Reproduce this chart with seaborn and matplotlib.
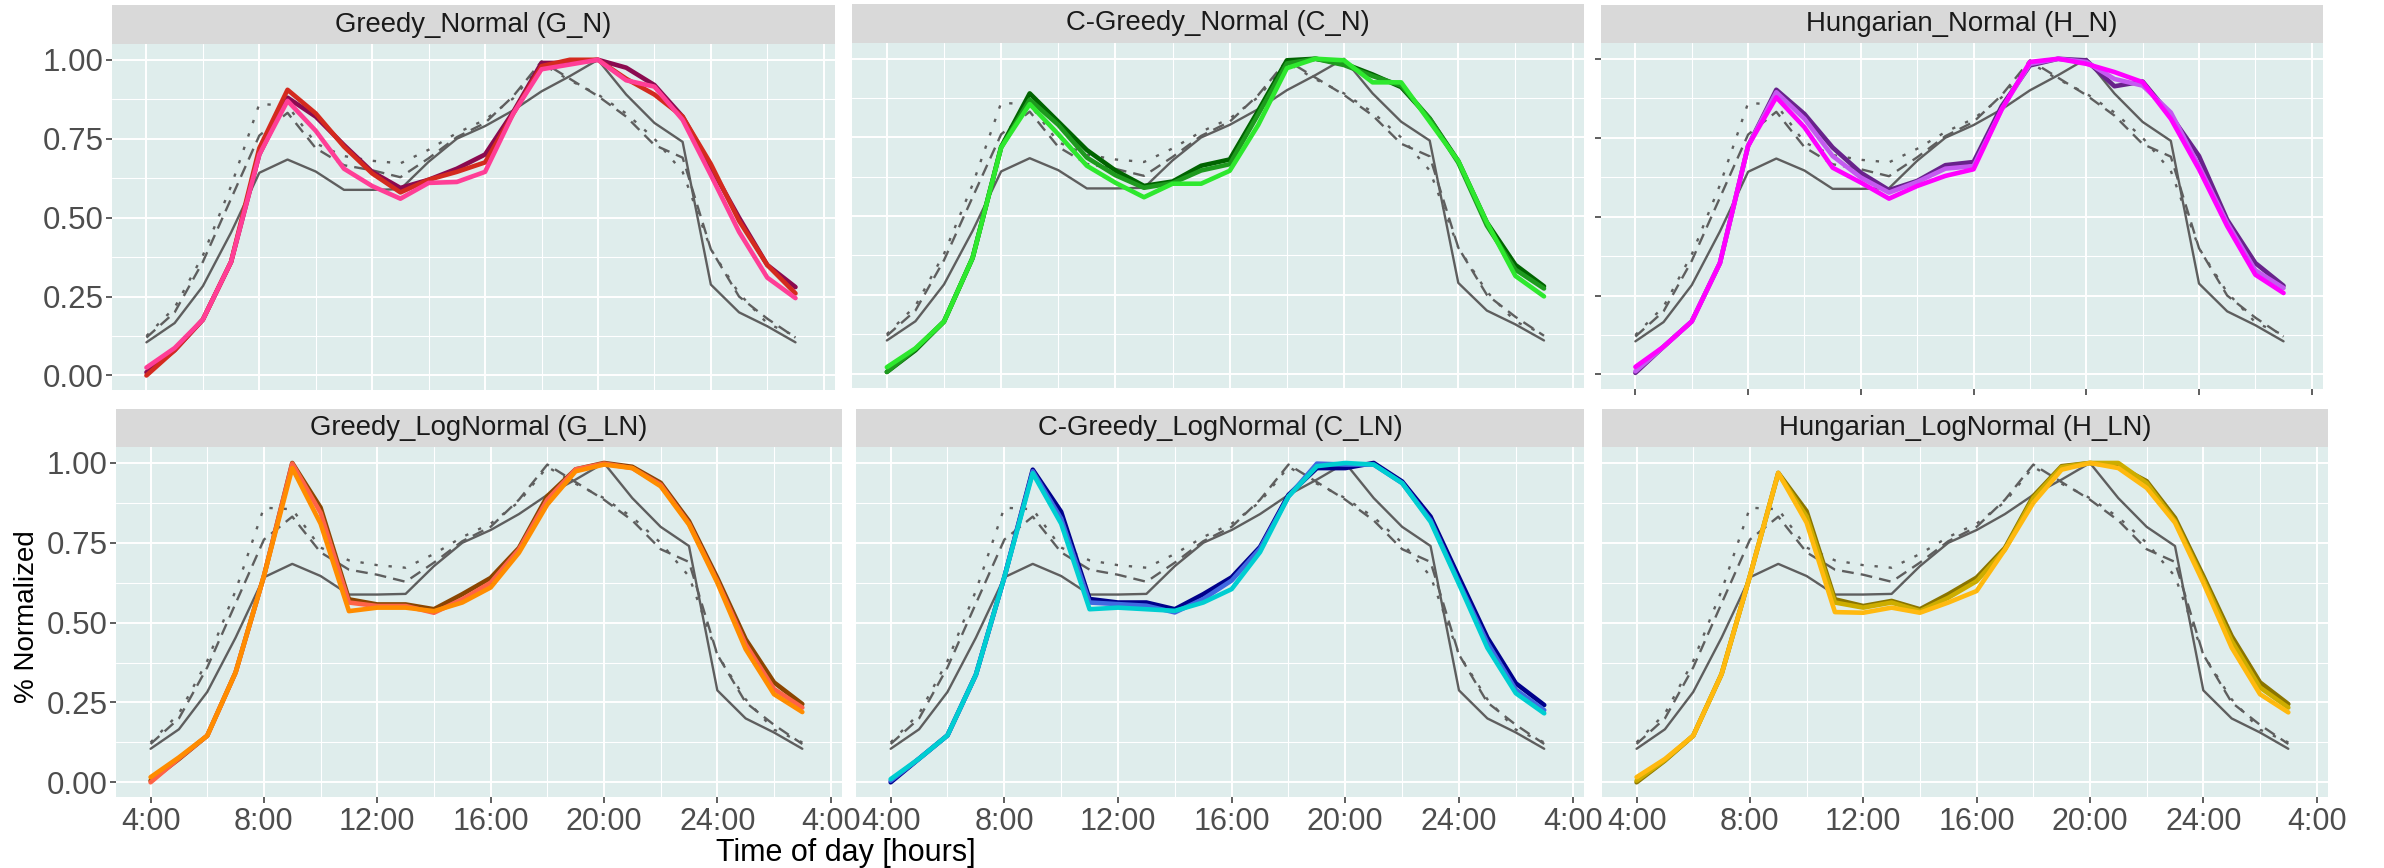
import numpy as np
import pandas as pd
import matplotlib
matplotlib.use("Agg")
import matplotlib.pyplot as plt
import seaborn as sns

sns.set_theme(style="white")
plt.rcParams["font.family"] = ["Liberation Sans", "DejaVu Sans"]

# hours of the day (4:00 .. 3:00 next day)
hours = list(range(4, 28))

# reference profiles (grey) - same in every panel
ref_solid = [0.105, 0.166, 0.283, 0.453, 0.642, 0.684, 0.646, 0.588, 0.588, 0.590, 0.677, 0.750,
             0.790, 0.840, 0.900, 0.948, 1.000, 0.890, 0.800, 0.740, 0.288, 0.200, 0.156, 0.105]
ref_dashed = [0.120, 0.200, 0.360, 0.560, 0.760, 0.832, 0.720, 0.666, 0.650, 0.628, 0.688, 0.755,
              0.800, 0.885, 0.995, 0.940, 0.885, 0.820, 0.730, 0.690, 0.400, 0.250, 0.180, 0.120]
ref_dotted = [0.125, 0.215, 0.380, 0.600, 0.860, 0.855, 0.735, 0.695, 0.680, 0.672, 0.715, 0.768,
              0.810, 0.878, 0.988, 0.935, 0.890, 0.830, 0.750, 0.645, 0.400, 0.260, 0.165, 0.125]

# Greedy_Normal
gn_1 = [0.010, 0.080, 0.177, 0.360, 0.700, 0.880, 0.820, 0.730, 0.645, 0.594, 0.620, 0.655,
        0.700, 0.835, 0.990, 0.990, 1.000, 0.975, 0.920, 0.820, 0.660, 0.500, 0.350, 0.280]
gn_2 = [0.000, 0.080, 0.177, 0.360, 0.720, 0.905, 0.830, 0.725, 0.640, 0.580, 0.620, 0.645,
        0.675, 0.830, 0.980, 1.000, 1.000, 0.940, 0.890, 0.820, 0.670, 0.490, 0.350, 0.260]
gn_3 = [0.025, 0.087, 0.177, 0.360, 0.700, 0.870, 0.775, 0.655, 0.600, 0.560, 0.610, 0.613,
        0.645, 0.830, 0.970, 0.985, 1.000, 0.935, 0.915, 0.810, 0.635, 0.455, 0.310, 0.245]
# C-Greedy_Normal
cn_1 = [0.005, 0.074, 0.165, 0.367, 0.720, 0.890, 0.800, 0.710, 0.645, 0.596, 0.610, 0.660,
        0.680, 0.835, 0.995, 1.000, 0.985, 0.950, 0.910, 0.810, 0.675, 0.480, 0.345, 0.277]
cn_2 = [0.005, 0.078, 0.165, 0.367, 0.718, 0.870, 0.790, 0.686, 0.630, 0.590, 0.605, 0.645,
        0.665, 0.824, 0.985, 1.000, 0.980, 0.945, 0.915, 0.810, 0.670, 0.470, 0.330, 0.270]
cn_3 = [0.020, 0.080, 0.165, 0.367, 0.718, 0.856, 0.760, 0.660, 0.606, 0.560, 0.603, 0.603,
        0.644, 0.790, 0.970, 1.000, 0.995, 0.925, 0.925, 0.800, 0.675, 0.480, 0.310, 0.245]
# Hungarian_Normal
hn_1 = [0.005, 0.088, 0.168, 0.353, 0.724, 0.902, 0.825, 0.719, 0.639, 0.584, 0.613, 0.663,
        0.673, 0.850, 0.979, 1.000, 0.995, 0.913, 0.928, 0.820, 0.692, 0.490, 0.353, 0.281]
hn_2 = [0.010, 0.088, 0.168, 0.353, 0.724, 0.894, 0.810, 0.692, 0.624, 0.576, 0.610, 0.652,
        0.660, 0.840, 0.984, 1.000, 0.990, 0.936, 0.915, 0.830, 0.660, 0.480, 0.330, 0.274]
hn_3 = [0.024, 0.088, 0.168, 0.353, 0.724, 0.878, 0.783, 0.655, 0.608, 0.557, 0.597, 0.629,
        0.650, 0.840, 0.990, 1.000, 0.984, 0.958, 0.926, 0.810, 0.650, 0.470, 0.316, 0.258]
# Greedy_LogNormal
gln_1 = [0.005, 0.073, 0.146, 0.344, 0.646, 1.000, 0.860, 0.573, 0.557, 0.557, 0.542, 0.589,
         0.640, 0.734, 0.896, 0.980, 1.000, 0.988, 0.938, 0.818, 0.640, 0.448, 0.313, 0.245]
gln_2 = [0.000, 0.075, 0.146, 0.344, 0.646, 0.998, 0.844, 0.563, 0.552, 0.552, 0.531, 0.573,
         0.625, 0.729, 0.885, 0.980, 0.998, 0.984, 0.932, 0.810, 0.630, 0.432, 0.292, 0.234]
gln_3 = [0.016, 0.078, 0.146, 0.344, 0.646, 0.984, 0.810, 0.536, 0.547, 0.547, 0.536, 0.563,
         0.610, 0.719, 0.870, 0.974, 0.995, 0.984, 0.927, 0.807, 0.625, 0.417, 0.276, 0.220]
# C-Greedy_LogNormal
cln_1 = [0.000, 0.074, 0.147, 0.337, 0.642, 0.979, 0.847, 0.574, 0.563, 0.563, 0.542, 0.589,
         0.642, 0.737, 0.900, 0.984, 0.984, 1.000, 0.942, 0.832, 0.642, 0.453, 0.310, 0.242]
cln_2 = [0.005, 0.074, 0.147, 0.337, 0.642, 0.974, 0.826, 0.563, 0.558, 0.553, 0.532, 0.574,
         0.632, 0.732, 0.895, 0.998, 0.995, 0.995, 0.937, 0.821, 0.626, 0.437, 0.290, 0.226]
cln_3 = [0.010, 0.074, 0.147, 0.337, 0.642, 0.968, 0.810, 0.542, 0.547, 0.542, 0.537, 0.563,
         0.605, 0.721, 0.895, 0.990, 1.000, 0.995, 0.937, 0.816, 0.621, 0.421, 0.279, 0.216]
# Hungarian_LogNormal
hln_1 = [0.000, 0.068, 0.146, 0.339, 0.646, 0.969, 0.849, 0.573, 0.552, 0.568, 0.542, 0.589,
         0.641, 0.734, 0.896, 0.990, 1.000, 0.990, 0.943, 0.828, 0.646, 0.458, 0.313, 0.245]
hln_2 = [0.005, 0.070, 0.146, 0.339, 0.646, 0.967, 0.833, 0.563, 0.547, 0.563, 0.536, 0.578,
         0.630, 0.729, 0.890, 0.987, 1.000, 1.000, 0.937, 0.818, 0.635, 0.443, 0.297, 0.234]
hln_3 = [0.016, 0.073, 0.146, 0.339, 0.646, 0.969, 0.813, 0.533, 0.531, 0.547, 0.531, 0.563,
         0.599, 0.729, 0.875, 0.979, 1.000, 0.984, 0.922, 0.813, 0.625, 0.422, 0.276, 0.219]

titles = ["Greedy_Normal (G_N)", "C-Greedy_Normal (C_N)", "Hungarian_Normal (H_N)",
          "Greedy_LogNormal (G_LN)", "C-Greedy_LogNormal (C_LN)", "Hungarian_LogNormal (H_LN)"]
panel_series = [[gn_1, gn_2, gn_3], [cn_1, cn_2, cn_3], [hn_1, hn_2, hn_3],
                [gln_1, gln_2, gln_3], [cln_1, cln_2, cln_3], [hln_1, hln_2, hln_3]]
panel_colors = [["#8B0A50", "#D42A1E", "#FF3E96"],
                ["#006400", "#1E9A1E", "#2EE82E"],
                ["#68228B", "#C45BF0", "#FF00FF"],
                ["#8B4500", "#FF6347", "#FF8C00"],
                ["#00008B", "#4169E1", "#00CED1"],
                ["#8B7500", "#CDAD00", "#FFB90F"]]
tick_hours = [4, 8, 12, 16, 20, 24, 28]
tick_labels = ["4:00", "8:00", "12:00", "16:00", "20:00", "24:00", "4:00"]

# grey reference lines as long table
ref_df = pd.concat([
    pd.DataFrame({"hour": hours, "value": ref_solid, "ref": "solid"}),
    pd.DataFrame({"hour": hours, "value": ref_dashed, "ref": "dashed"}),
    pd.DataFrame({"hour": hours, "value": ref_dotted, "ref": "dotted"}),
])
ref_dashes = {"solid": "", "dashed": (5.0, 3.0), "dotted": (1.4, 4.6)}

W, H = 2384, 868
# panel boxes in pixels: (x0, x1, strip_top, plot_top, plot_bottom)
boxes = [(112, 835, 5, 44, 390), (852, 1584, 4, 43, 388), (1601, 2323, 5, 43, 389),
         (116, 842, 409, 447, 797), (856, 1584, 409, 447, 797), (1602, 2328, 409, 447, 797)]

fig = plt.figure(figsize=(W / 100, H / 100), dpi=100)

for i, (x0, x1, st, pt, pb) in enumerate(boxes):
    ax = fig.add_axes([x0 / W, 1 - pb / H, (x1 - x0) / W, (pb - pt) / H])
    ax.set_facecolor("#DFEDEC")
    for s in ax.spines.values():
        s.set_visible(False)

    sns.lineplot(data=ref_df, x="hour", y="value", style="ref", dashes=ref_dashes,
                 color="#5E5E5E", linewidth=1.7, legend=False, ax=ax)

    df = pd.concat([pd.DataFrame({"hour": hours, "value": v, "run": f"r{k}"})
                    for k, v in enumerate(panel_series[i])])
    sns.lineplot(data=df, x="hour", y="value", hue="run", palette=panel_colors[i],
                 linewidth=3.3, legend=False, ax=ax)

    ax.set_xlim(2.78, 28.4)
    ax.set_ylim(-0.046, 1.05)
    ax.set_xticks(tick_hours)
    ax.set_xticks([6, 10, 14, 18, 22, 26], minor=True)
    ax.set_yticks([0, 0.25, 0.5, 0.75, 1.0])
    ax.set_yticks([0.125, 0.375, 0.625, 0.875], minor=True)
    ax.grid(which="major", color="white", linewidth=1.4)
    ax.grid(which="minor", color="white", linewidth=0.8)
    ax.set_axisbelow(True)
    ax.set_xlabel("")
    ax.set_ylabel("")

    row, col = divmod(i, 3)
    ax.tick_params(which="minor", length=0)
    ax.tick_params(which="major", color="#333333", width=1.1, length=4,
                   labelcolor="#4D4D4D")
    ax.tick_params(axis="x", labelsize=22)
    ax.tick_params(axis="y", labelsize=22.5)
    if row == 1:
        ax.set_xticklabels(tick_labels)
        ax.tick_params(axis="x", bottom=True, pad=3)
    elif col == 2:
        ax.tick_params(axis="x", bottom=True, labelbottom=False)
    else:
        ax.tick_params(axis="x", bottom=False, labelbottom=False)
    if col == 0:
        ax.set_yticklabels(["0.00", "0.25", "0.50", "0.75", "1.00"])
        ax.tick_params(axis="y", left=True, pad=2)
    elif col == 2 and row == 0:
        ax.tick_params(axis="y", left=True, labelleft=False)
    else:
        ax.tick_params(axis="y", left=False, labelleft=False)

    # facet strip
    sax = fig.add_axes([x0 / W, 1 - pt / H, (x1 - x0) / W, (pt - st) / H])
    sax.set_facecolor("#D9D9D9")
    sax.set_xticks([])
    sax.set_yticks([])
    for s in sax.spines.values():
        s.set_visible(False)
    sax.text(0.5, 0.5, titles[i], ha="center", va="center", fontsize=19.8,
             color="#1A1A1A", transform=sax.transAxes)

fig.text(846 / W, 1 - 853 / H, "Time of day [hours]", ha="center", va="center",
         fontsize=22, color="black")
fig.text(27 / W, 1 - 617 / H, "% Normalized", ha="center", va="center",
         fontsize=20, rotation=90, color="black")

fig.savefig("out.png", dpi=100, facecolor="white")
